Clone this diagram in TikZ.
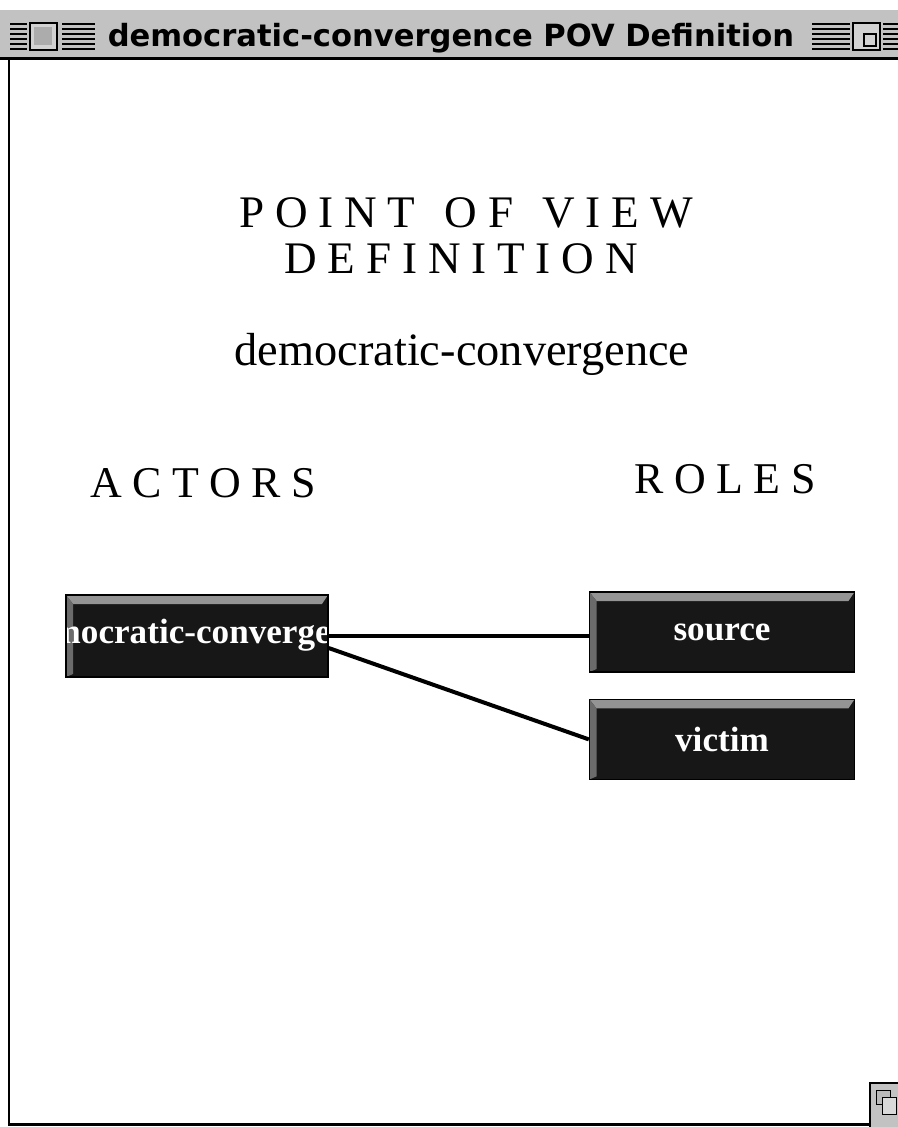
\documentclass[tikz,border=0pt]{standalone}
\usepackage{fontspec}
\setmainfont{Liberation Serif}
\newfontfamily\spacedfont[LetterSpace=24]{Liberation Serif}
\newfontfamily\barfont{DejaVu Sans}
\usetikzlibrary{positioning}

\definecolor{barbg}{gray}{0.76}
\definecolor{boxbg}{gray}{0.09}
\definecolor{bevtopc}{gray}{0.58}
\definecolor{bevleftc}{gray}{0.42}

% bevel strips of a button
\newcommand\bevelfill{%
  \fill[bevtopc] (path picture bounding box.north west) -- (path picture bounding box.north east)
    -- ([shift={(-0.12cm,-0.18cm)}]path picture bounding box.north east)
    -- ([shift={(0.14cm,-0.18cm)}]path picture bounding box.north west) -- cycle;
  \fill[bevleftc] (path picture bounding box.north west)
    -- ([shift={(0.14cm,-0.18cm)}]path picture bounding box.north west)
    -- ([shift={(0.14cm,0.06cm)}]path picture bounding box.south west)
    -- (path picture bounding box.south west) -- cycle;
}

\begin{document}
\begin{tikzpicture}[x=0.02cm, y=-0.02cm,
    rolebox/.style={rectangle, fill=boxbg, draw=black, line width=0.8pt, inner sep=0pt,
      minimum width=5.3cm, minimum height=1.6cm, text=white,
      font=\bfseries\fontsize{20}{22}\selectfont, path picture={\bevelfill}},
    boxtext/.style={text=white, inner sep=0pt, font=\bfseries\fontsize{20}{22}\selectfont},
    heading/.style={anchor=base, inner sep=0pt, font=\spacedfont\fontsize{25.7}{28}\selectfont},
    link/.style={line width=0.08cm},
    bars/.style={line width=0.05cm}]
  \fill[white] (0,0) rectangle (898,1127);
  \useasboundingbox (0,0) rectangle (898,1127);

  % window title bar
  \fill[barbg] (0,10) rectangle (898,57);
  \draw[line width=0.06cm] (0,58) -- (898,58);
  \foreach \yy in {24,29,...,49} {
    \draw[bars] (10,\yy) -- (27,\yy);
    \draw[bars] (62,\yy) -- (95,\yy);
    \draw[bars] (812,\yy) -- (850,\yy);
    \draw[bars] (883,\yy) -- (898,\yy);
  }
  \draw[bars, fill=gray!35] (30,23) rectangle (57,50);
  \fill[gray!65] (34,27) rectangle (52,45);
  \draw[bars, fill=gray!35] (853,23) rectangle (880,50);
  \draw[bars] (864,34) rectangle (876,46);
  \node[anchor=base, inner sep=0pt, font=\barfont\bfseries\fontsize{17.4}{19}\selectfont] (bartitle) at (451,46) {democratic-convergence POV Definition};

  % window frame
  \draw[line width=0.06cm] (9,58) -- (9,1124) -- (870,1124);
  \draw[bars, fill=barbg] (870,1083) rectangle (900,1129);
  \draw[fill=gray!55] (876,1090) rectangle (890,1104);
  \draw[fill=gray!30] (882,1097) rectangle (896,1114);

  % headings
  \node[heading] (pov) at (466,227) {POINT\hspace{4pt} OF\hspace{4pt} VIEW};
  \node[heading] (def) at (461,273) {DEFINITION};
  \node[anchor=base, inner sep=0pt, font=\fontsize{26.4}{30}\selectfont] (name) at (462,365) {democratic-convergence};
  \node[heading, font=\spacedfont\fontsize{25}{28}\selectfont] (actors) at (203,497) {ACTORS};
  \node[heading, font=\spacedfont\fontsize{25}{28}\selectfont] (roles) at (725,493) {ROLES};

  % buttons
  \node[rolebox, minimum width=5.24cm, minimum height=1.64cm,
    path picture={\bevelfill
      \node[boxtext, anchor=base] at ([shift={(0.04cm,-0.14cm)}]path picture bounding box.center) {democratic-convergence};}] (actor) at (197,636) {};
  \node[rolebox] (source) at (722,632) {source};
  \node[rolebox, below=0.52cm of source] (victim) {victim};

  % links
  \draw[link] (actor.east) -- (actor.east -| source.west);
  \draw[link] ([yshift=-0.24cm]actor.east) -- (victim.west);
\end{tikzpicture}
\end{document}
